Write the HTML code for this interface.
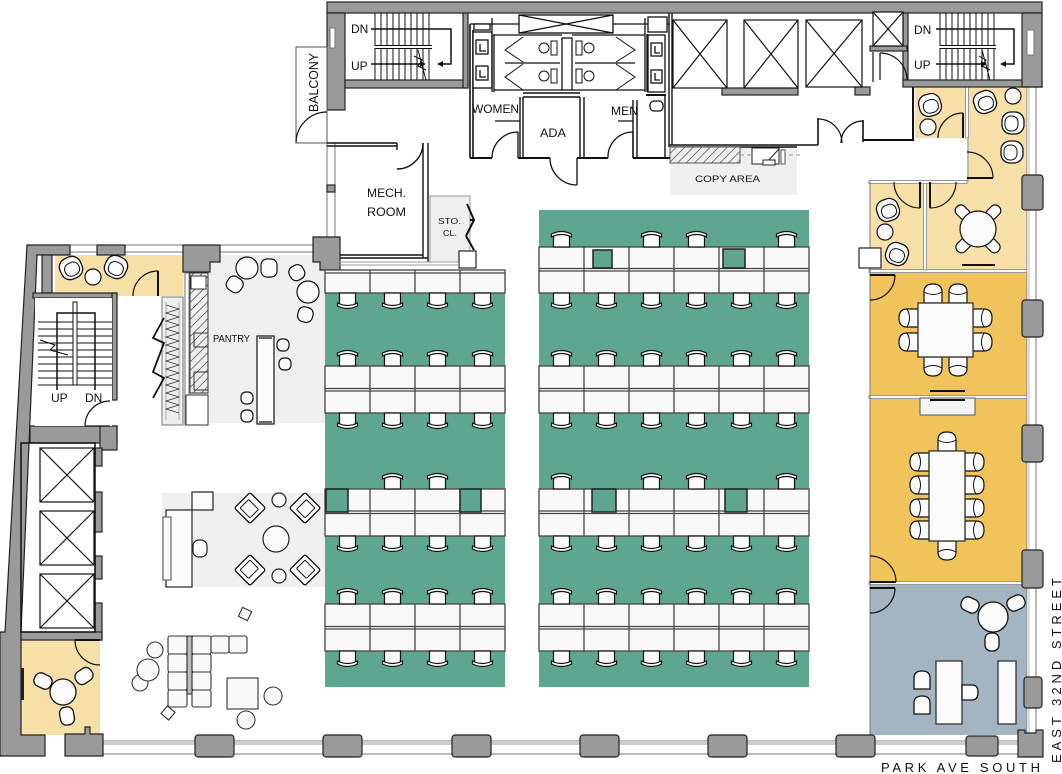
<!DOCTYPE html>
<html><head><meta charset="utf-8">
<style>
html,body{margin:0;padding:0;background:#fff;width:1062px;height:774px;overflow:hidden}
svg{display:block}
text{font-family:"Liberation Sans",Arial,sans-serif;fill:#111}
</style></head><body>
<svg width="1062" height="774" viewBox="0 0 1062 774" xmlns="http://www.w3.org/2000/svg">
<defs>
<pattern id="h" width="6" height="6" patternUnits="userSpaceOnUse" patternTransform="rotate(45)"><rect width="6" height="6" fill="#eee"/><line x1="0" y1="0" x2="0" y2="6" stroke="#333" stroke-width="1.2"/></pattern>
<g id="cd"><path d="M-8,0V9Q-8,13 -4,13H4Q8,13 8,9V0Z" fill="#fafafa" stroke="#111" stroke-width="1.2"/><path d="M-10,10Q0,15 10,10L10,13Q0,18 -10,13Z" fill="#fafafa" stroke="#111" stroke-width="1.2"/></g>
<g id="cu"><use href="#cd" transform="scale(1,-1)"/></g>
<g id="cc"><path d="M-9,0V11Q-9,19 0,19Q9,19 9,11V0Z" fill="#fafafa" stroke="#111" stroke-width="1.2"/><path d="M-9,11Q0,6 9,11" fill="none" stroke="#111" stroke-width="1"/></g>
<g id="lc"><rect x="-11" y="-11" width="22" height="22" rx="9" fill="#fafafa" stroke="#111" stroke-width="1.3"/><rect x="-7" y="-5" width="15" height="13" rx="6" fill="#fafafa" stroke="#111" stroke-width="1"/></g>
<g id="ac"><rect x="-11" y="-11" width="22" height="22" rx="2" fill="#fafafa" stroke="#111" stroke-width="1.3"/><rect x="-7" y="-5" width="14" height="12" rx="1" fill="#fafafa" stroke="#111"/></g>
<g id="tc"><rect x="-7" y="-9" width="14" height="18" rx="6" fill="#fafafa" stroke="#111" stroke-width="1.3"/></g>
</defs>

<!-- floors -->
<g stroke="none">
<rect x="325" y="270" width="180" height="417" fill="#5fa690"/>
<rect x="539" y="210" width="270" height="477" fill="#5fa690"/>
<rect x="183" y="255" width="142" height="168" fill="#efefef"/>
<rect x="162" y="493" width="163" height="94" fill="#efefef"/>
<rect x="670" y="147" width="127" height="48" fill="#efefef"/>
<rect x="430" y="196" width="40" height="66" fill="#efefef"/>
<rect x="55" y="255" width="128" height="41" fill="#f6e0a8"/>
<rect x="20" y="640" width="80" height="95" fill="#f6e0a8"/>
<rect x="915" y="87" width="52" height="51" fill="#f6e0a8"/>
<rect x="967" y="87" width="60" height="95" fill="#f6e0a8"/>
<rect x="870" y="182" width="157" height="89" fill="#f6e0a8"/>
<rect x="870" y="271" width="157" height="312" fill="#f0c35b"/>
<rect x="870" y="583" width="157" height="152" fill="#a4b4c1"/>
</g>
<rect x="430" y="196" width="40" height="66" fill="none" stroke="#999"/>

<!-- partitions -->
<g fill="#fff" stroke="#999" stroke-width="1">
<rect x="869" y="269.5" width="158" height="3"/>
<rect x="869" y="395.5" width="158" height="3"/>
<rect x="869" y="581.5" width="158" height="3"/>
<rect x="923.5" y="182" width="3" height="88"/>
<rect x="965.5" y="87" width="3" height="51"/>
<rect x="869" y="180.5" width="98" height="3"/>
</g>
<line x1="870" y1="182" x2="870" y2="735" stroke="#777" stroke-width="1"/>
<line x1="968" y1="138" x2="968" y2="182" stroke="#999" stroke-width="1"/>

<!-- windows -->
<g fill="#fff" stroke="#777" stroke-width="1">
<rect x="100" y="741" width="925" height="13"/>
<rect x="1027" y="87" width="9" height="646"/>
<rect x="55" y="245" width="258" height="7"/>
<rect x="327" y="143" width="8" height="96"/>
</g>
<rect x="100" y="741" width="925" height="4" fill="#ccc"/>
<rect x="1027" y="87" width="3" height="646" fill="#ddd"/>

<!-- walls -->
<g fill="#9a9a9a" stroke="#222" stroke-width="1.2">
<rect x="327" y="2" width="715" height="11"/>
<path d="M327,13H345V110H327Z"/>
<rect x="345" y="80" width="123" height="8"/>
<rect x="463" y="13" width="5" height="75"/>
<rect x="903" y="13" width="5" height="67"/>
<rect x="903" y="80" width="139" height="7"/>
<path d="M1022,13H1042V87H1022Z"/>
<rect x="722" y="88" width="76" height="7"/>
<rect x="855" y="87" width="15" height="8"/>
<rect x="870" y="46" width="37" height="5"/>
<rect x="327" y="185" width="8" height="7"/>
<path d="M313,237H340V270H320V262H313Z"/>
<path d="M27,245H70V255H37L21,632V735H45V756H0V632H5Z"/>
<rect x="42" y="255" width="10" height="38"/>
<rect x="97" y="245" width="28" height="10"/>
<path d="M183,245H220V262H210V272H183Z"/>
<rect x="33" y="293" width="84" height="5"/>
<rect x="112" y="293" width="5" height="107"/>
<rect x="30" y="426" width="87" height="17"/>
<rect x="100" y="426" width="17" height="24"/>
<rect x="95" y="448" width="7" height="18"/>
<rect x="95" y="492" width="7" height="40"/>
<rect x="95" y="556" width="7" height="23"/>
<rect x="95" y="603" width="7" height="37"/>
<rect x="21" y="632" width="81" height="8"/>
<path d="M65,734H85V727H90V734H103V756H65Z"/>
<rect x="195" y="735" width="39" height="22" rx="3"/>
<rect x="323" y="735" width="39" height="22" rx="3"/>
<rect x="452" y="735" width="39" height="22" rx="3"/>
<rect x="580" y="735" width="39" height="22" rx="3"/>
<rect x="708" y="735" width="39" height="22" rx="3"/>
<rect x="836" y="735" width="39" height="22" rx="3"/>
<rect x="966" y="736" width="32" height="20" rx="3"/>
<path d="M1018,730H1025V733H1036V730H1043V757H1018Z"/>
<rect x="1022" y="175" width="21" height="35" rx="3"/>
<rect x="1022" y="300" width="21" height="37" rx="3"/>
<rect x="1022" y="425" width="21" height="37" rx="3"/>
<rect x="1022" y="550" width="21" height="38" rx="3"/>
<rect x="1024" y="677" width="18" height="31" rx="3"/>
</g>
<rect x="330" y="28" width="5" height="20" fill="#fff" stroke="#777"/>
<rect x="1027" y="30" width="7" height="25" fill="#fff" stroke="#777"/>

<!-- balcony -->
<rect x="296" y="47" width="31" height="96" fill="#fff" stroke="#555" stroke-width="1"/>
<path d="M327,112 A31,31 0 0 0 296,143" fill="none" stroke="#111" stroke-width="1.2"/>
<text transform="translate(318,112) rotate(-90)" font-size="12.5" textLength="59" lengthAdjust="spacingAndGlyphs">BALCONY</text>

<!-- top-left stair -->
<g stroke="#111" stroke-width="1">
<path d="M375,13V46M381,13V46M387,13V46M393,13V46M399,13V46M405,13V46M411,13V46M417,13V46M423,13V46M429,13V46"/>
<path d="M375,48V80M381,48V80M387,48V80M393,48V80M399,48V80M405,48V80M411,48V80M417,48V80M423,48V80M429,48V80"/>
<path d="M375,45.5H432M375,48.5H432"/>
<path d="M371,29H451V64H439M371,64H424" fill="none" stroke-width="1.5"/>
<path d="M418,50L426,80M414,56L422,60L418,66L426,70" fill="none"/>
</g>
<path d="M437,64l6,-3v6z M426,64l-6,-3v6z" fill="#111"/>
<text x="351" y="33" font-size="12">DN</text>
<text x="351" y="70" font-size="12">UP</text>

<!-- right stair -->
<g stroke="#111" stroke-width="1">
<path d="M940,13V46M946,13V46M952,13V46M958,13V46M964,13V46M970,13V46M976,13V46M982,13V46M988,13V46M994,13V46"/>
<path d="M940,48V80M946,48V80M952,48V80M958,48V80M964,48V80M970,48V80M976,48V80M982,48V80M988,48V80M994,48V80"/>
<path d="M940,45.5H996M940,48.5H996"/>
<path d="M936,29H1014V64H1002M936,64H985" fill="none" stroke-width="1.5"/>
<path d="M982,50L990,80M979,56L986,60L982,66L990,70" fill="none"/>
</g>
<path d="M1000,64l6,-3v6z M987,64l-6,-3v6z" fill="#111"/>
<text x="914" y="34" font-size="12">DN</text>
<text x="914" y="69" font-size="12">UP</text>

<!-- small elevator + lobby -->
<g fill="none" stroke="#111" stroke-width="1.2">
<rect x="873" y="12" width="30" height="34" fill="#fff"/>
<path d="M873,12L903,46M903,12L873,46"/>
<path d="M873,52V82M880,53V80"/>
<path d="M880,53A27,27 0 0 1 907,80"/>
<rect x="673" y="20" width="54" height="68" fill="#fff"/>
<path d="M673,20L727,88M727,20L673,88"/>
<rect x="744" y="20" width="54" height="68" fill="#fff"/>
<path d="M744,20L798,88M798,20L744,88"/>
<rect x="806" y="20" width="56" height="67" fill="#fff"/>
<path d="M806,20L862,87M862,20L806,87"/>
<path d="M669,13V147M672,13V145" stroke-width="1.4"/>
<path d="M669,145H818M670,147H797" stroke-width="1.6"/>
<path d="M818,118V145M863,120V142" stroke-width="1.6"/>
<path d="M818,119A24,24 0 0 1 842,143M863,121A22,22 0 0 0 841,143"/>
<path d="M863,140H913V87" stroke-width="2"/>
</g>
<!-- copy area -->
<rect x="670" y="147" width="70" height="16" fill="url(#h)" stroke="#555"/>
<line x1="740" y1="155" x2="800" y2="155" stroke="#999" stroke-dasharray="4,3"/>
<rect x="752" y="148" width="27" height="16" fill="#fff" stroke="#222"/>
<path d="M765,164L779,149" stroke="#222"/>
<rect x="763" y="160" width="12" height="5" fill="#fff" stroke="#222"/>
<rect x="781" y="150" width="4" height="14" fill="#fff" stroke="#555"/>
<text x="695" y="182" font-size="9" textLength="65" lengthAdjust="spacingAndGlyphs">COPY AREA</text>

<!-- restrooms -->
<g fill="none" stroke="#111" stroke-width="1.3">
<rect x="519" y="15" width="94" height="18" fill="#fff"/>
<path d="M519,15L613,33M613,15L519,33"/>
<path d="M470,24V158M473,30V158" stroke-width="1.6"/>
<path d="M470,24H519M613,24H670"/>
<rect x="474" y="24" width="16" height="6" fill="#fff"/>
<rect x="473" y="32" width="19" height="56" fill="#fff"/>
<rect x="476" y="40" width="12" height="14"/><path d="M480,44V51H486"/>
<rect x="476" y="66" width="12" height="14"/><path d="M480,70V77H486"/>
<path d="M492,18V92M494,34V92"/>
<path d="M494,35H562M494,90H562M505,63H560"/>
<path d="M523,37L505,50L523,62M523,64L505,77L523,90" stroke-width="1"/>
<circle cx="544" cy="48" r="5" fill="#fff" stroke-width="1"/><rect x="551" y="41" width="6" height="14" fill="#fff" stroke-width="1"/>
<circle cx="544" cy="76" r="5" fill="#fff" stroke-width="1"/><rect x="551" y="69" width="6" height="14" fill="#fff" stroke-width="1"/>
<rect x="562" y="38" width="10" height="52" fill="#fff"/>
<rect x="576" y="41" width="6" height="14" fill="#fff" stroke-width="1"/><circle cx="589" cy="48" r="5" fill="#fff" stroke-width="1"/>
<rect x="576" y="69" width="6" height="14" fill="#fff" stroke-width="1"/><circle cx="589" cy="76" r="5" fill="#fff" stroke-width="1"/>
<path d="M572,35H645M572,90H645M575,63H635"/>
<path d="M616,37L635,50L616,62M616,64L635,77L616,90" stroke-width="1"/>
<path d="M645,18V92M647,34V92"/>
<rect x="648" y="17" width="19" height="15" fill="#fff"/>
<rect x="648" y="35" width="17" height="57" fill="#fff"/>
<rect x="651" y="43" width="11" height="13"/><path d="M655,46V53H660"/>
<rect x="651" y="70" width="11" height="13"/><path d="M655,73V80H660"/>
<rect x="650" y="101" width="13" height="10" rx="4" fill="#fff"/>
<path d="M646,95H666" stroke-width="2"/>
<path d="M523,93H580M523,97H580" stroke-width="1.4"/>
<path d="M520,97V158M523,97V158M580,97V158M584,97V158" stroke-width="1.4"/>
<path d="M495,121H520M618,121H633"/>
<path d="M633,100V158M637,100V158M665,95V158" stroke-width="1.4"/>
<path d="M470,158H492M518,158H550M577,158H608M633,158H670" stroke-width="2"/>
<path d="M518,132V158M518,132A26,26 0 0 0 492,158"/>
<path d="M577,158V185M577,185A27,27 0 0 1 550,158"/>
<path d="M633,132V158M633,132A25,25 0 0 0 608,158"/>
</g>
<text x="472" y="113" font-size="12" textLength="47" lengthAdjust="spacingAndGlyphs">WOMEN</text>
<text x="540" y="137" font-size="12" textLength="26" lengthAdjust="spacingAndGlyphs">ADA</text>
<text x="611" y="115" font-size="12" textLength="27" lengthAdjust="spacingAndGlyphs">MEN</text>

<!-- mech room -->
<g fill="none" stroke="#111" stroke-width="1.4">
<path d="M327,143H397M327,146H397"/>
<path d="M423,143V258M428,143V262M340,255H423M340,258H428"/>
<path d="M423,143A26,26 0 0 1 397,169M397,143V150"/>
<path d="M430,196V262M470,196H433M470,262H435" stroke="#999" stroke-width="1"/>
<path d="M467,204L474,220L466,236M474,220H470M466,236L474,250" stroke-width="2"/>
</g>
<text x="367" y="197" font-size="12" textLength="39" lengthAdjust="spacingAndGlyphs">MECH.</text>
<text x="367" y="216" font-size="12" textLength="39" lengthAdjust="spacingAndGlyphs">ROOM</text>
<text x="438" y="224" font-size="8.5" textLength="23" lengthAdjust="spacingAndGlyphs">STO.</text>
<text x="443" y="236" font-size="8.5" textLength="14" lengthAdjust="spacingAndGlyphs">CL.</text>
<rect x="459" y="251" width="17" height="17" fill="#fff" stroke="#222" stroke-width="1.2"/>
<rect x="859" y="248" width="22" height="20" fill="#fff" stroke="#222" stroke-width="1.2"/>
<line x1="325" y1="262" x2="459" y2="262" stroke="#999"/>
<line x1="325" y1="265" x2="459" y2="265" stroke="#999"/>

<!-- desks -->
<g fill="#f9f9f9" stroke="#444" stroke-width="1.3">
<rect x="325" y="270" width="180" height="23"/>
<rect x="325" y="366" width="180" height="47"/>
<rect x="325" y="489" width="180" height="47"/>
<rect x="325" y="604" width="180" height="47"/>
<rect x="539" y="247" width="270" height="46"/>
<rect x="539" y="366" width="270" height="47"/>
<rect x="539" y="489" width="270" height="47"/>
<rect x="539" y="604" width="270" height="47"/>
</g>
<g stroke="#444" stroke-width="1.3">
<path d="M370,270V293M415,270V293M460,270V293M325,273H505"/>
<path d="M370,366V413M415,366V413M460,366V413M325,388.5H505M325,391H505"/>
<path d="M370,489V536M415,489V536M460,489V536M325,511H505M325,513.5H505"/>
<path d="M370,604V651M415,604V651M460,604V651M325,626.5H505M325,629H505"/>
<path d="M584,247V293M629,247V293M674,247V293M719,247V293M764,247V293M539,268.5H809M539,271H809"/>
<path d="M584,366V413M629,366V413M674,366V413M719,366V413M764,366V413M539,388.5H809M539,391H809"/>
<path d="M584,489V536M629,489V536M674,489V536M719,489V536M764,489V536M539,511H809M539,513.5H809"/>
<path d="M584,604V651M629,604V651M674,604V651M719,604V651M764,604V651M539,626.5H809M539,629H809"/>
</g>
<g fill="#5fa690" stroke="#222" stroke-width="1.5">
<rect x="593" y="250" width="19" height="18"/>
<rect x="723" y="249" width="22" height="19"/>
<rect x="592" y="489" width="24" height="23"/>
<rect x="725" y="489" width="22" height="23"/>
<rect x="326" y="489" width="22" height="23"/>
<rect x="460" y="489" width="21" height="23"/>
</g>

<!-- desk chairs -->
<g>
<use href="#cd" x="347.5" y="293"/><use href="#cd" x="392.5" y="293"/><use href="#cd" x="437.5" y="293"/><use href="#cd" x="482.5" y="293"/>
<use href="#cu" x="347.5" y="366"/><use href="#cu" x="392.5" y="366"/><use href="#cu" x="437.5" y="366"/><use href="#cu" x="482.5" y="366"/>
<use href="#cd" x="347.5" y="413"/><use href="#cd" x="392.5" y="413"/><use href="#cd" x="437.5" y="413"/><use href="#cd" x="482.5" y="413"/>
<use href="#cu" x="392.5" y="489"/><use href="#cu" x="437.5" y="489"/>
<use href="#cd" x="347.5" y="536"/><use href="#cd" x="392.5" y="536"/><use href="#cd" x="437.5" y="536"/><use href="#cd" x="482.5" y="536"/>
<use href="#cu" x="347.5" y="604"/><use href="#cu" x="392.5" y="604"/><use href="#cu" x="437.5" y="604"/><use href="#cu" x="482.5" y="604"/>
<use href="#cd" x="347.5" y="651"/><use href="#cd" x="392.5" y="651"/><use href="#cd" x="437.5" y="651"/><use href="#cd" x="482.5" y="651"/>

<use href="#cu" x="561.5" y="247"/><use href="#cu" x="651.5" y="247"/><use href="#cu" x="696.5" y="247"/><use href="#cu" x="786.5" y="247"/>
<use href="#cd" x="561.5" y="293"/><use href="#cd" x="606.5" y="293"/><use href="#cd" x="651.5" y="293"/><use href="#cd" x="696.5" y="293"/><use href="#cd" x="741.5" y="293"/><use href="#cd" x="786.5" y="293"/>
<use href="#cu" x="561.5" y="366"/><use href="#cu" x="606.5" y="366"/><use href="#cu" x="651.5" y="366"/><use href="#cu" x="696.5" y="366"/><use href="#cu" x="741.5" y="366"/><use href="#cu" x="786.5" y="366"/>
<use href="#cd" x="561.5" y="413"/><use href="#cd" x="606.5" y="413"/><use href="#cd" x="651.5" y="413"/><use href="#cd" x="696.5" y="413"/><use href="#cd" x="741.5" y="413"/><use href="#cd" x="786.5" y="413"/>
<use href="#cu" x="561.5" y="489"/><use href="#cu" x="651.5" y="489"/><use href="#cu" x="696.5" y="489"/><use href="#cu" x="786.5" y="489"/>
<use href="#cd" x="561.5" y="536"/><use href="#cd" x="606.5" y="536"/><use href="#cd" x="651.5" y="536"/><use href="#cd" x="696.5" y="536"/><use href="#cd" x="741.5" y="536"/><use href="#cd" x="786.5" y="536"/>
<use href="#cu" x="561.5" y="604"/><use href="#cu" x="606.5" y="604"/><use href="#cu" x="651.5" y="604"/><use href="#cu" x="696.5" y="604"/><use href="#cu" x="741.5" y="604"/><use href="#cu" x="786.5" y="604"/>
<use href="#cd" x="561.5" y="651"/><use href="#cd" x="606.5" y="651"/><use href="#cd" x="651.5" y="651"/><use href="#cd" x="696.5" y="651"/><use href="#cd" x="741.5" y="651"/><use href="#cd" x="786.5" y="651"/>
</g>

<!-- right rooms -->
<g fill="none" stroke="#111" stroke-width="1.2">
<path d="M963,113V138" stroke-width="2"/><path d="M963,113A25,25 0 0 0 938,138"/>
<path d="M967,178H993" stroke-width="2"/><path d="M993,178A26,26 0 0 0 967,152"/>
<path d="M920,182V208M930,182V208" stroke-width="2"/>
<path d="M894,182A26,26 0 0 0 920,208M930,208A26,26 0 0 0 956,182"/>
<path d="M870,275H895" stroke-width="2"/><path d="M895,275A25,25 0 0 1 870,300"/>
<path d="M870,582H896" stroke-width="2"/><path d="M870,556A26,26 0 0 1 896,582"/>
<path d="M870,588H895" stroke-width="2"/><path d="M895,588A25,25 0 0 1 870,613"/>
</g>
<use href="#lc" transform="translate(930,105) rotate(-15)"/>
<circle cx="928" cy="127" r="8" fill="#fafafa" stroke="#111" stroke-width="1.2"/>
<use href="#lc" transform="translate(985,102) rotate(-20)"/>
<circle cx="1013" cy="96" r="8" fill="#fafafa" stroke="#111" stroke-width="1.2"/>
<use href="#lc" transform="translate(1013,123) rotate(90)"/>
<use href="#lc" transform="translate(1012,152) rotate(90)"/>
<use href="#lc" transform="translate(888,210) rotate(-20)"/>
<circle cx="885" cy="232" r="8" fill="#fafafa" stroke="#111" stroke-width="1.2"/>
<use href="#lc" transform="translate(897,254) rotate(20)"/>
<g fill="#fafafa" stroke="#111" stroke-width="1.2">
<rect x="955" y="207" width="16" height="11" rx="5" transform="rotate(45 963 212)"/>
<rect x="985" y="207" width="16" height="11" rx="5" transform="rotate(-45 993 212)"/>
<rect x="955" y="240" width="16" height="11" rx="5" transform="rotate(-45 963 245)"/>
<rect x="985" y="240" width="16" height="11" rx="5" transform="rotate(45 993 245)"/>
<circle cx="978" cy="229" r="18"/>
</g>
<path d="M962,265H995" stroke="#111" stroke-width="2"/>

<!-- conf 1 -->
<use href="#cc" transform="translate(933,303) scale(1,-1)"/>
<use href="#cc" transform="translate(958,303) scale(1,-1)"/>
<use href="#cc" transform="translate(933,357)"/>
<use href="#cc" transform="translate(958,357)"/>
<use href="#cc" transform="translate(918,318) rotate(90)"/>
<use href="#cc" transform="translate(918,342) rotate(90)"/>
<use href="#cc" transform="translate(973,318) rotate(-90)"/>
<use href="#cc" transform="translate(973,342) rotate(-90)"/>
<rect x="918" y="303" width="55" height="54" fill="#fafafa" stroke="#333" stroke-width="1.3"/>
<path d="M930,391H965" stroke="#111" stroke-width="2"/>
<rect x="920" y="398" width="55" height="17" fill="#f4f4f4" stroke="#555"/>
<path d="M930,400H965" stroke="#111" stroke-width="2"/>

<!-- conf 2 -->
<use href="#cc" transform="translate(947,451) scale(1,-1)"/>
<use href="#cc" transform="translate(947,541)"/>
<use href="#cc" transform="translate(929,462) rotate(90)"/>
<use href="#cc" transform="translate(929,485) rotate(90)"/>
<use href="#cc" transform="translate(929,508) rotate(90)"/>
<use href="#cc" transform="translate(929,530) rotate(90)"/>
<use href="#cc" transform="translate(965,462) rotate(-90)"/>
<use href="#cc" transform="translate(965,485) rotate(-90)"/>
<use href="#cc" transform="translate(965,508) rotate(-90)"/>
<use href="#cc" transform="translate(965,530) rotate(-90)"/>
<rect x="929" y="451" width="36" height="90" fill="#fafafa" stroke="#333" stroke-width="1.3"/>

<!-- blue room -->
<g fill="#fafafa" stroke="#111" stroke-width="1.3">
<use href="#tc" transform="translate(970,605) rotate(-65)"/>
<use href="#tc" transform="translate(1016,603) rotate(65)"/>
<use href="#tc" transform="translate(992,642)"/>
<circle cx="993" cy="617" r="15"/>
<rect x="936" y="661" width="26" height="63" stroke="#333"/>
<rect x="998" y="661" width="18" height="63" stroke="#333"/>
<path d="M914,689V678Q914,671 922,671Q930,671 930,678V689Z"/>
<path d="M914,714V703Q914,696 922,696Q930,696 930,703V714Z"/>
<path d="M962,685H972Q978,685 978,692Q978,700 972,700H962Z"/>
</g>

<!-- left nook & pantry -->
<use href="#lc" transform="translate(71,268) rotate(-25)"/>
<circle cx="93" cy="277" r="8" fill="#fafafa" stroke="#111" stroke-width="1.2"/>
<use href="#lc" transform="translate(116,267) rotate(25)"/>
<path d="M158,271V296" stroke="#111" stroke-width="2"/>
<path d="M158,271A25,25 0 0 0 133,296" fill="none" stroke="#111" stroke-width="1.2"/>

<rect x="162" y="297" width="21" height="128" fill="#eee" stroke="#777"/>
<path d="M166,302V420M179,302V420" stroke="#999" stroke-width="0.8"/>
<path d="M166,305L179,309L166,313L179,317L166,321L179,325L166,329L179,333L166,337L179,341L166,345L179,349L166,353L179,357L166,361L179,365L166,369L179,373L166,377L179,381L166,385L179,389L166,393L179,397L166,401L179,405L166,409L179,413" fill="none" stroke="#333" stroke-width="0.8"/>
<path d="M164,318L153,338L164,343L153,372L164,378L153,398" fill="none" stroke="#111" stroke-width="1.8"/>
<rect x="185" y="273" width="4" height="152" fill="#fff" stroke="#777"/>
<rect x="190" y="273" width="18" height="120" fill="url(#h)" stroke="#333"/>
<rect x="191" y="276" width="15" height="13" fill="#fff" stroke="#333"/>
<rect x="194" y="333" width="14" height="14" fill="none" stroke="#333"/>
<rect x="194" y="372" width="14" height="18" fill="none" stroke="#333"/>
<rect x="186" y="395" width="22" height="30" fill="#fff" stroke="#333"/>
<text x="213" y="342" font-size="10" textLength="37" lengthAdjust="spacingAndGlyphs">PANTRY</text>
<g fill="#fafafa" stroke="#111" stroke-width="1.2">
<rect x="261" y="259" width="16" height="18" rx="6"/>
<rect x="227" y="277" width="16" height="15" rx="6" transform="rotate(35 235 284)"/>
<circle cx="247" cy="268" r="11"/>
<rect x="289" y="265" width="15" height="15" rx="6" transform="rotate(-30 297 272)"/>
<rect x="298" y="307" width="15" height="15" rx="6" transform="rotate(15 305 314)"/>
<circle cx="308" cy="292" r="11"/>
<rect x="257" y="336" width="17" height="88"/>
<rect x="277" y="339" width="12" height="12" rx="5"/>
<rect x="279" y="358" width="12" height="12" rx="5"/>
<rect x="241" y="392" width="12" height="12" rx="5"/>
<rect x="241" y="410" width="12" height="12" rx="5"/>
</g>
<path d="M259,338H272M259,422H272" stroke="#111" stroke-width="1.2"/>

<!-- left stair -->
<rect x="35" y="298" width="77" height="128" fill="#fff"/>
<g stroke="#111" stroke-width="1" fill="none">
<path d="M38,322H73M38,329H73M38,336H73M38,343H73M38,350H73M38,357H73M38,364H73M38,371H73M38,378H73M38,385H73"/>
<path d="M77,322H112M77,329H112M77,336H112M77,343H112M77,350H112M77,357H112M77,364H112M77,371H112M77,378H112M77,385H112"/>
<rect x="73" y="302" width="4" height="83" fill="#fff"/>
<path d="M57,390V313H95V390" stroke-width="1.5"/>
<path d="M40,340L55,345L50,350L68,355" />
<path d="M110,401A25,25 0 0 0 85,426M85,426H110" stroke-width="1.2"/>
</g>
<text x="51" y="402" font-size="12">UP</text>
<text x="85" y="402" font-size="12">DN</text>

<!-- left elevators -->
<g fill="none" stroke="#111" stroke-width="1.2">
<rect x="21" y="443" width="74" height="189" stroke-width="1.5"/>
<rect x="40" y="448" width="54" height="54"/><path d="M40,448L94,502M94,448L40,502"/>
<rect x="40" y="511" width="54" height="54"/><path d="M40,511L94,565M94,511L40,565"/>
<rect x="40" y="574" width="54" height="54"/><path d="M40,574L94,628M94,574L40,628"/>
</g>

<!-- bottom-left yellow room -->
<path d="M100,640H75" stroke="#111" stroke-width="2"/>
<path d="M75,640A25,25 0 0 0 100,665" fill="none" stroke="#111" stroke-width="1.2"/>
<rect x="21" y="668" width="3" height="32" fill="#222"/>
<g fill="#fafafa" stroke="#111" stroke-width="1.3">
<use href="#tc" transform="translate(43,681) rotate(-65)"/>
<use href="#tc" transform="translate(84,676) rotate(55)"/>
<use href="#tc" transform="translate(67,716) rotate(-10)"/>
<circle cx="63" cy="692" r="13"/>
</g>

<!-- lounge -->
<g fill="#fafafa" stroke="#222" stroke-width="1.2">
<rect x="166" y="510" width="26" height="77"/>
<rect x="163" y="517" width="8" height="63" stroke="#666"/>
<rect x="192" y="492" width="21" height="18"/>
<rect x="193" y="540" width="14" height="17" rx="6"/>
<circle cx="276" cy="539" r="13"/>
<circle cx="279" cy="500" r="7"/>
<circle cx="279" cy="576" r="7"/>
</g>
<use href="#ac" transform="translate(250,508) rotate(45)"/>
<use href="#ac" transform="translate(305,508) rotate(-45)"/>
<use href="#ac" transform="translate(250,570) rotate(135)"/>
<use href="#ac" transform="translate(305,570) rotate(-135)"/>

<!-- sectional -->
<g fill="#f8f8f8" stroke="#333" stroke-width="1.1">
<rect x="168" y="636" width="19" height="18" rx="2"/><rect x="168" y="654" width="19" height="18" rx="2"/><rect x="168" y="672" width="19" height="18" rx="2"/><rect x="168" y="690" width="19" height="17" rx="2"/>
<rect x="192" y="636" width="19" height="18" rx="2"/><rect x="192" y="654" width="19" height="18" rx="2"/><rect x="192" y="672" width="19" height="18" rx="2"/><rect x="192" y="690" width="19" height="17" rx="2"/>
<rect x="211" y="636" width="18" height="17" rx="2"/><rect x="229" y="636" width="18" height="17" rx="2"/>
<rect x="187" y="636" width="5" height="58" fill="#bbb"/>
<rect x="240" y="609" width="10" height="10" transform="rotate(25 245 614)"/>
<rect x="163" y="708" width="10" height="10" transform="rotate(40 168 713)"/>
<circle cx="155" cy="650" r="8"/>
<circle cx="140" cy="683" r="8"/>
<circle cx="148" cy="670" r="11"/>
<rect x="227" y="678" width="31" height="31"/>
<circle cx="273" cy="696" r="9"/>
<circle cx="246" cy="720" r="9"/>
</g>

<!-- street labels -->
<text x="881" y="772" font-size="13" textLength="159" lengthAdjust="spacing">PARK AVE SOUTH</text>
<text transform="translate(1061,763) rotate(-90)" font-size="13" textLength="185" lengthAdjust="spacing">EAST 32ND STREET</text>
</svg>
</body></html>
